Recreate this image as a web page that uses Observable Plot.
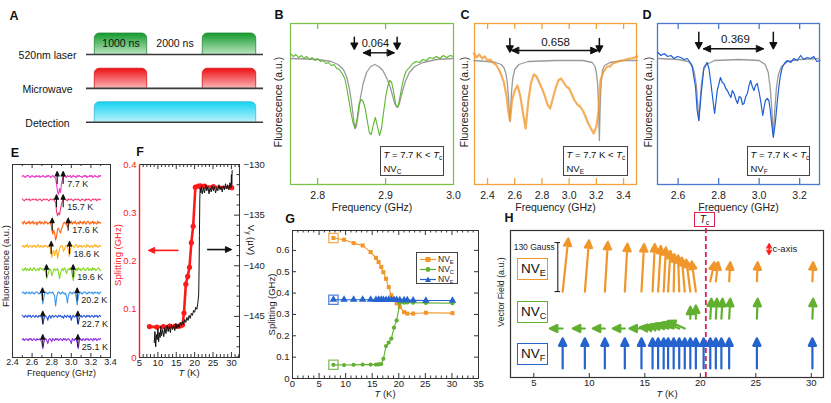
<!DOCTYPE html>
<html><head><meta charset="utf-8">
<script src="https://cdn.jsdelivr.net/npm/d3@7"></script>
<script src="https://cdn.jsdelivr.net/npm/@observablehq/plot@0.6"></script>
<style>
body{margin:0;background:#fff;}
#fig{position:relative;width:831px;height:403px;overflow:hidden;font-family:"Liberation Sans",Arial,Helvetica,sans-serif;color:#222;background:#fff;}
#fig svg{position:absolute;}
sub{font-size:0.68em;vertical-align:-0.3em;line-height:0;}
.box{position:absolute;background:#fff;box-sizing:border-box;white-space:nowrap;}
</style></head>
<body><div id="fig"></div>
<script>
// ---------------- DATA ----------------
// Panel A (pulse sequence, ns)
const aRows = ["520nm laser", "Microwave", "Detection"];
const aLevel = [2, 1, 0];
const laserPulses = [{start: 0, end: 1000}, {start: 2060, end: 3080}];
const microwavePulses = [{start: 0, end: 1000}, {start: 2060, end: 3080}];
const detectionPulses = [{start: 0, end: 3080}];
const pulseHeight = [0.62, 0.58, 0.59];
const timeLabels = [{t: 500, text: "1000 ns"}, {t: 1530, text: "2000 ns"}];

// Panel B (NV_C)
const bFreq = [2.760,2.764,2.768,2.772,2.776,2.780,2.784,2.788,2.792,2.796,2.800,2.804,2.808,2.812,2.816,2.820,2.824,2.828,2.832,2.836,2.840,2.843,2.846,2.849,2.852,2.855,2.858,2.861,2.864,2.867,2.870,2.873,2.876,2.879,2.882,2.885,2.888,2.891,2.894,2.897,2.900,2.903,2.906,2.909,2.912,2.915,2.918,2.921,2.924,2.927,2.930,2.935,2.940,2.945,2.950,2.955,2.960,2.965,2.970,2.975,2.980,2.985,2.990,2.995,3.000];
const bSignal = [1.02,1.005,1.015,1.0,1.01,0.995,1.005,0.99,1.0,0.985,0.995,0.98,0.985,0.97,0.975,0.96,0.965,0.945,0.94,0.92,0.895,0.845,0.785,0.725,0.675,0.645,0.695,0.77,0.79,0.78,0.745,0.685,0.625,0.615,0.665,0.70,0.655,0.61,0.645,0.725,0.80,0.855,0.885,0.875,0.825,0.765,0.75,0.80,0.855,0.90,0.93,0.95,0.97,0.98,0.975,0.99,0.985,1.0,0.995,1.005,0.995,1.01,1.0,1.01,1.005];
const bFitFreq = [2.760,2.800,2.820,2.830,2.838,2.843,2.847,2.850,2.853,2.855,2.857,2.860,2.863,2.867,2.872,2.878,2.884,2.890,2.896,2.902,2.907,2.911,2.914,2.917,2.920,2.924,2.929,2.935,2.943,2.955,2.975,3.000];
const bFit = [0.995,0.99,0.98,0.965,0.94,0.90,0.84,0.77,0.69,0.645,0.655,0.72,0.80,0.87,0.925,0.955,0.965,0.955,0.935,0.895,0.85,0.80,0.765,0.75,0.765,0.82,0.88,0.925,0.955,0.975,0.99,0.995];
const bMarks = [2.854, 2.917];
const bSplit = "0.064";

// Panel C (NV_E)
const cFreq = [2.30,2.32,2.34,2.36,2.38,2.40,2.42,2.44,2.46,2.48,2.50,2.52,2.54,2.55,2.565,2.58,2.60,2.62,2.64,2.66,2.68,2.70,2.72,2.74,2.76,2.78,2.80,2.82,2.84,2.86,2.88,2.90,2.92,2.94,2.96,2.98,3.00,3.02,3.04,3.06,3.08,3.10,3.12,3.14,3.16,3.18,3.20,3.215,3.23,3.25,3.28,3.30,3.32,3.34,3.36,3.38,3.40,3.42,3.44,3.46,3.48,3.50];
const cSignal = [1.02,1.0,1.015,0.995,1.005,0.985,0.99,0.975,0.965,0.945,0.915,0.875,0.805,0.745,0.685,0.785,0.835,0.86,0.81,0.725,0.645,0.785,0.875,0.915,0.905,0.875,0.845,0.81,0.765,0.745,0.795,0.845,0.885,0.895,0.875,0.855,0.845,0.815,0.785,0.765,0.755,0.735,0.705,0.67,0.645,0.62,0.655,0.725,0.885,0.925,0.955,0.955,0.97,0.975,0.98,0.985,0.985,0.99,0.995,0.995,1.0,1.005];
const cFitFreq = [2.30,2.40,2.46,2.50,2.52,2.535,2.545,2.553,2.559,2.564,2.569,2.576,2.585,2.60,2.63,2.70,2.90,3.10,3.17,3.19,3.20,3.21,3.216,3.222,3.228,3.235,3.245,3.26,3.30,3.40,3.50];
const cFit = [0.985,0.98,0.975,0.965,0.95,0.92,0.875,0.81,0.735,0.68,0.735,0.825,0.895,0.94,0.965,0.98,0.985,0.985,0.975,0.955,0.925,0.86,0.76,0.585,0.76,0.875,0.935,0.96,0.975,0.985,0.985];
const cMarks = [2.564, 3.222];
const cSplit = "0.658";

// Panel D (NV_F)
const dFreq = [2.500,2.515,2.531,2.548,2.564,2.580,2.597,2.613,2.630,2.645,2.660,2.670,2.686,2.694,2.702,2.714,2.727,2.743,2.752,2.760,2.772,2.780,2.793,2.809,2.818,2.826,2.835,2.843,2.852,2.860,2.868,2.876,2.885,2.893,2.902,2.910,2.918,2.925,2.934,2.942,2.950,2.958,2.966,2.974,2.982,2.991,3.000,3.007,3.018,3.025,3.031,3.040,3.048,3.055,3.060,3.070,3.081,3.090,3.097,3.105,3.114,3.125,3.139,3.155,3.172,3.188,3.205,3.220,3.237,3.254,3.270,3.285,3.300];
const dSignal = [1.025,1.01,1.02,1.005,1.01,0.995,1.005,1.0,0.99,0.995,0.975,0.95,0.85,0.735,0.685,0.82,0.95,0.975,0.945,0.885,0.785,0.72,0.835,0.90,0.875,0.87,0.845,0.835,0.815,0.80,0.835,0.82,0.79,0.77,0.805,0.80,0.765,0.77,0.805,0.82,0.86,0.885,0.855,0.835,0.86,0.87,0.825,0.785,0.71,0.755,0.785,0.795,0.785,0.735,0.685,0.60,0.685,0.785,0.85,0.91,0.95,0.97,0.985,0.975,0.995,0.985,1.01,0.99,1.0,0.995,1.005,0.98,0.985];
const dFitFreq = [2.50,2.60,2.65,2.67,2.68,2.69,2.697,2.702,2.707,2.714,2.725,2.74,2.78,2.90,3.00,3.03,3.045,3.055,3.063,3.07,3.077,3.085,3.095,3.11,3.14,3.20,3.30];
const dFit = [0.995,0.99,0.98,0.96,0.925,0.86,0.76,0.685,0.76,0.86,0.935,0.965,0.985,0.99,0.985,0.965,0.925,0.845,0.735,0.61,0.735,0.845,0.915,0.955,0.98,0.99,0.995];
const dMarks = [2.702, 3.070];
const dSplit = "0.369";

// Panel E (spectra vs temperature, sweep 2.50–3.30 GHz, 0.01 GHz steps; values = change, px-like a.u.)
const eLabels = ["7.7 K","15.7 K","17.6 K","18.6 K","19.6 K","20.2 K","22.7 K","25.1 K"];
const eColors = ["#f03cc8","#f43c70","#ff6414","#ffb21e","#80d820","#3c98ea","#2a55e0","#8c2ee0"];
const eTraces = [
 [0,1,0,-1,0,1,1,0,-1,0, 1,0,0,-1,1,0,0,1,-1,0, 0,1,0,0,-1,1,0,1,0,-1, 0,1,0,-1,-2,-8,-15,-18,-12,-16, -7,-3,0,1,0,-1,1,0,0,1, -1,0,1,0,0,-1,1,0,1,0, 0,-1,0,1,0,1,-1,0,0,1, 0,1,-1,0,1,0,0,-1,1,0,1],
 [1,0,-1,0,1,0,0,1,-1,0, 0,1,0,0,1,-1,0,0,1,0, -1,0,1,0,0,1,0,-1,0,1, 0,0,1,-1,-3,-12,-16,-13,-15,-9, -4,-1,0,1,0,0,-1,1,0,0, 1,0,-1,0,1,0,0,1,0,-1, 0,1,0,0,-1,1,0,0,1,0, -1,0,1,0,0,1,-1,0,1,0,0],
 [1,-1,2,0,-1,1,0,2,-1,1, 0,2,-1,0,1,-2,1,0,2,-1, 1,0,-1,2,0,1,-1,0,1,-1, -4,-11,-7,-10,-17,-13,-6,-5,-8,-10, -6,-3,0,1,-1,0,-4,-3,1,0, 2,-1,1,0,2,-1,0,1,-1,2, 0,1,-1,2,0,-1,1,2,0,-1, 1,0,2,-1,1,0,-1,2,0,1,0],
 [0,1,-1,1,0,2,-1,0,1,0, -1,1,0,1,-1,0,2,0,-1,1, 0,-1,1,0,1,0,-1,1,0,-4, -11,-6,-4,-9,-5,-3,-12,-7,-2,0, 1,0,-5,-3,0,1,-1,-4,-10,-4, 0,1,0,-1,1,2,0,-1,1,0, 1,-1,0,1,0,-1,2,0,1,-1, 0,1,-1,0,2,0,1,-1,0,1,0],
 [1,-1,0,2,-1,1,0,-1,2,0, -1,1,2,0,-1,0,1,-1,2,1, 0,1,-1,0,-3,-9,-5,-2,1,0, -6,-4,0,1,-1,0,1,-3,-9,-4, 0,1,-1,2,0,-4,-1,1,0,2, -1,-5,-11,-5,0,1,-1,2,0,1, -1,0,2,1,-1,0,1,2,-1,0, 1,-1,2,0,1,-1,0,1,2,0,-1],
 [0,1,0,-1,1,0,0,1,-1,0, 1,0,-1,0,1,1,0,-1,0,1, -3,-11,-4,0,1,0,-1,0,1,0, 0,1,-1,-3,-13,-5,0,1,0,-1, 0,1,0,-1,0,-3,-10,-3,0,1, 0,-1,1,0,0,-4,-12,-4,0,1, 0,-1,0,1,1,0,-1,0,1,0, 0,1,-1,0,1,0,0,1,-1,0,1],
 [1,0,-1,1,0,-1,1,0,1,-1, 0,1,0,-1,1,0,-1,1,0,0, -2,-8,-3,1,0,-1,-4,0,1,-2, 0,1,-1,0,1,0,-1,1,0,1, -1,0,-2,1,0,-1,1,0,-1,1, -4,0,1,-1,0,1,-3,-8,-3,0, 1,-1,0,1,0,-1,1,0,1,-1, 0,1,0,-1,1,0,1,-1,0,1,0],
 [0,1,-1,0,1,0,-1,1,0,1, -1,0,1,0,-1,1,0,0,1,-1, -3,-9,-3,0,1,-1,-4,0,1,0, -2,1,0,-1,1,0,1,-1,0,1, 0,-1,1,0,1,-1,0,1,0,-1, -4,1,0,-1,1,0,-3,-9,-3,1, 0,-1,1,0,-1,1,0,1,-1,0, 1,0,-1,1,0,1,-1,0,1,0,1]
];
const eArrowFreqs = [[2.856,2.917],[2.849,2.917],[2.805,2.968],[2.795,2.982],[2.747,3.019],[2.706,3.060],[2.709,3.067],[2.709,3.067]];

// Panel G / F (splitting vs T)
const tG  = [7.7,9.7,11.5,13.2,14.7,15.7,16.2,16.7,17.1,17.6,18.1,18.6,19.1,19.6,20.2,21.0,21.6,22.7,25.1,30.1];
const nvE = [0.658,0.650,0.634,0.623,0.592,0.565,0.545,0.522,0.498,0.467,0.428,0.389,0.370,0.352,0.335,0.311,0.304,0.304,0.308,0.306];
const nvC = [0.064,0.063,0.064,0.065,0.065,0.065,0.066,0.068,0.092,0.152,0.168,0.187,0.238,0.272,0.353,0.355,0.356,0.355,0.354,0.352];
const nvF = [0.369,0.369,0.369,0.369,0.369,0.368,0.369,0.369,0.368,0.368,0.368,0.368,0.368,0.368,0.367,0.367,0.367,0.366,0.365,0.365];

// Panel F transport (µV)
const fT = [9.0,9.2,9.4,9.6,9.8,10.0,10.2,10.4,10.6,10.8,11.0,11.3,11.6,11.9,12.2,12.5,12.8,13.1,13.4,13.7,14.0,14.3,14.6,14.9,15.2,15.5,15.8,16.1,16.4,16.7,17.0,17.3,17.6,17.9,18.2,18.5,18.8,19.1,19.4,19.7,20.0,20.3,20.6,20.9,21.1,21.2,21.3,21.4,21.5,21.7,21.9,22.1,22.4,22.7,23.0,23.3,23.6,23.9,24.2,24.5,24.8,25.1,25.4,25.7,26.0,26.3,26.6,26.9,27.2,27.5,27.8,28.1,28.4,28.7,29.0,29.3,29.6,29.9,30.0,30.1,30.2];
const fV = [-147.6,-146.5,-148.0,-146.8,-147.3,-146.2,-147.5,-146.6,-147.1,-146.0,-146.9,-146.3,-147.0,-146.1,-146.7,-145.9,-146.5,-146.0,-146.6,-145.8,-146.3,-145.9,-146.4,-145.7,-146.2,-145.8,-146.1,-145.6,-145.9,-145.5,-145.8,-145.3,-145.6,-145.1,-145.4,-144.9,-145.2,-144.7,-144.9,-144.4,-144.6,-144.1,-144.3,-143.6,-142.8,-140.5,-137.0,-133.5,-132.3,-132.8,-132.1,-132.9,-132.3,-132.8,-132.0,-132.6,-132.2,-132.9,-132.3,-132.7,-132.1,-132.6,-132.2,-132.8,-132.3,-132.6,-132.0,-132.5,-132.2,-132.7,-132.1,-132.5,-131.9,-132.4,-132.0,-132.5,-131.8,-132.3,-131.0,-132.0,-130.6];

// Panel H (vector field, Gauss: [B_perp, B_c])
const Tc = 20.5;
const hT = [7.6,9.6,11.4,13.2,14.7,15.7,16.2,16.7,17.1,17.6,18.1,18.6,19.1,19.6,20.3,20.9,21.4,21.9,22.6,25.1,30.1];
const hE = [[15,141],[11,136],[8,132],[7,127],[7,126],[6,126],[7,121],[6,117],[6,108],[2,99],[-3,96],[-8,90],[-11,85],[-11,80],null,[11,51],[6,51],null,[3,51],[2,51],[2,51]];
const hC = [[-34,0],[-32,0],[-32,0],[-32,0],[-32,0],[-34,3],[-37,5],[-40,8],[-40,11],[-42,13],[-44,16],[-45,20],[0,32],[0,35],null,[3,53],[3,53],[3,53],[3,53],[2,53],[2,53]];
const hF = [[0,80],[0,80],[0,80],[0,80],[0,80],[0,80],[0,80],[0,80],[0,80],[0,80],[0,80],[0,80],[0,80],[0,80],[0,80],[0,80],[0,80],[0,80],[0,80],[0,80],[0,80]];
const scaleBarGauss = 130;

// ---------------- STYLE / HELPERS ----------------
const FONT = '"Liberation Sans", Arial, Helvetica, sans-serif';
const cOr = "#f0962a", cGr = "#62b030", cBl = "#2563cf", cRed = "#ff1a1a", cTc = "#dc2050";
const fig = document.getElementById("fig");
const st = (fs) => ({fontFamily: FONT, fontSize: fs + "px", background: "transparent", overflow: "visible", color: "#222"});
function put(svg, left, top) { svg.style.left = left + "px"; svg.style.top = top + "px"; fig.appendChild(svg); }
function label(h, cx, cy, css = "", rot = 0) {
  const d = document.createElement("div");
  d.innerHTML = h;
  d.style.cssText = `position:absolute;left:${cx}px;top:${cy}px;transform:translate(-50%,-50%) rotate(${rot}deg);white-space:nowrap;line-height:1;${css}`;
  fig.appendChild(d);
}
function box(h, x, y, w, hgt, css) {
  const d = document.createElement("div");
  d.className = "box";
  d.innerHTML = h;
  d.style.cssText += `left:${x}px;top:${y}px;width:${w}px;height:${hgt}px;${css}`;
  fig.appendChild(d);
}
const mkArrow = (head = 6, wing = 3) => ({
  draw(ctx, l) {
    const h = Math.min(head, l);
    ctx.moveTo(0, 0); ctx.lineTo(0, -l + h * 0.7);
    ctx.moveTo(-wing, -l + h); ctx.lineTo(0, -l); ctx.lineTo(wing, -l + h); ctx.closePath();
  }
});
const xTicks = (vals, len, fh, stroke = "#333", sw = 1) => [
  Plot.tickX(vals, {x: d => d, insetTop: fh - len, stroke, strokeWidth: sw}),
  Plot.tickX(vals, {x: d => d, insetBottom: fh - len, stroke, strokeWidth: sw})
];
const yTicks = (vals, len, fw, stroke = "#333", sides = "both") => [
  ...(sides !== "right" ? [Plot.tickY(vals, {y: d => d, insetRight: fw - len, stroke})] : []),
  ...(sides !== "left" ? [Plot.tickY(vals, {y: d => d, insetLeft: fw - len, stroke})] : [])
];
const yLabel = (text, dx, dy, fs, fill = "#222") => Plot.text([text], {frameAnchor: "left", textAnchor: "middle", lineAnchor: "middle", rotate: -90, dx, dy, fontSize: fs, fill});
const xLabel = (text, dy, fs) => Plot.text([text], {frameAnchor: "bottom", textAnchor: "middle", lineAnchor: "middle", dy, fontSize: fs, fill: "#222"});
const f1 = d3.format(".1f");

// ---------------- PANEL A ----------------
const defsA = () => {
  const d = document.createElementNS("http://www.w3.org/2000/svg", "defs");
  d.innerHTML = `
  <linearGradient id="gLaser" x1="0" y1="0" x2="0" y2="1"><stop offset="0" stop-color="#139a2c"/><stop offset="1" stop-color="#e4f6e4"/></linearGradient>
  <linearGradient id="gMw" x1="0" y1="0" x2="0" y2="1"><stop offset="0" stop-color="#ee0f14"/><stop offset="1" stop-color="#ffe0e0"/></linearGradient>
  <linearGradient id="gDet" x1="0" y1="0" x2="0" y2="1"><stop offset="0" stop-color="#14d2f0"/><stop offset="1" stop-color="#e4fbff"/></linearGradient>`;
  return d;
};
const pulseRows = [
  {pulses: laserPulses, level: aLevel[0], h: pulseHeight[0], fill: "url(#gLaser)", stroke: "#2a8a3a"},
  {pulses: microwavePulses, level: aLevel[1], h: pulseHeight[1], fill: "url(#gMw)", stroke: "#d01818"},
  {pulses: detectionPulses, level: aLevel[2], h: pulseHeight[2], fill: "url(#gDet)", stroke: "#38b8dc"}
];
put(Plot.plot({
  width: 280, height: 140, marginLeft: 86, marginRight: 17, marginTop: 54, marginBottom: 18.3,
  x: {domain: [-158, 3219], axis: null}, y: {domain: [0, 2], axis: null},
  style: st(10.5),
  marks: [
    defsA,
    ...pulseRows.flatMap(r => [
      Plot.rect(r.pulses, {x1: "start", x2: "end", y1: r.level - 0.16, y2: r.level + r.h, fill: r.fill, stroke: r.stroke, strokeWidth: 0.8, rx: 5}),
      Plot.rect(r.pulses, {x1: d => d.start - 40, x2: d => d.end + 40, y1: r.level - 0.2, y2: r.level, fill: "white"})
    ]),
    Plot.ruleY(aLevel, {stroke: "#3a3a3a", strokeWidth: 1.6}),
    Plot.text(aRows, {y: (d, i) => aLevel[i], text: d => d, frameAnchor: "left", textAnchor: "middle", dx: -39, dy: 1, fontSize: 10.5, fill: "#111"}),
    Plot.text(timeLabels, {x: "t", y: 2, dy: -11, text: "text", fontSize: 10.5, fill: "#111"})
  ]
}), 0, 0);

// ---------------- PANELS B, C, D ----------------
function spectrumPanel(o) {
  const fh = 161;
  return Plot.plot({
    width: o.w, height: 215, marginLeft: o.ml, marginRight: o.mr, marginTop: 23, marginBottom: 31,
    x: {domain: o.xd}, y: {domain: [0.365, 1.17], axis: null},
    style: st(10.5),
    marks: [
      Plot.frame({stroke: o.frame, strokeWidth: 1.3}),
      ...xTicks(o.ticks.filter(t => t > o.xd[0] + 0.01 && t < o.xd[1] - 0.01), 6, fh, o.frame, 1.3),
      Plot.axisX(o.ticks, {tickSize: 0, tickPadding: 7, tickFormat: f1, fontSize: 10.5, label: null}),
      Plot.line(o.fitFreq, {x: d => d, y: (d, i) => o.fit[i], stroke: "#9a9a9a", strokeWidth: 1.3}),
      Plot.line(o.freq, {x: d => d, y: (d, i) => o.sig[i], stroke: o.color, strokeWidth: o.sw, strokeOpacity: o.op}),
      Plot.vector(o.marks, {x: d => d, y: o.arrowTop, rotate: 180, length: o.arrowLen, anchor: "start", shape: mkArrow(6, 3.2), stroke: "#111", fill: "#111", strokeWidth: 1.5}),
      Plot.link([0], {x1: o.hArrow[0], x2: o.hArrow[1], y1: o.hY, y2: o.hY, stroke: "#111", strokeWidth: 1.4}),
      Plot.vector([o.hArrow[0]], {x: d => d, y: o.hY, rotate: 270, length: 7, anchor: "end", shape: mkArrow(7, 3.2), stroke: "#111", fill: "#111", strokeWidth: 1}),
      Plot.vector([o.hArrow[1]], {x: d => d, y: o.hY, rotate: 90, length: 7, anchor: "end", shape: mkArrow(7, 3.2), stroke: "#111", fill: "#111", strokeWidth: 1}),
      Plot.text([o.split], {x: o.labelX, y: o.labelY, text: d => d, fontSize: o.labelFs, fill: "#111"}),
      yLabel("Fluorescence (a.u.)", o.ylabDx, -2, 10.5),
      xLabel("Frequency (GHz)", 23, 10.5)
    ]
  });
}
put(spectrumPanel({w: 190, ml: 20, mr: 7, xd: [2.76, 3.0], ticks: [2.8, 2.9, 3.0], frame: "#7cc24a", color: "#5cb42c", sw: 1.1, op: 1,
  freq: bFreq, sig: bSignal, fitFreq: bFitFreq, fit: bFit, marks: bMarks, arrowTop: 1.1015, arrowLen: 12,
  hArrow: [2.867, 2.913], hY: 1.0235, split: bSplit, labelX: 2.885, labelY: 1.0715, labelFs: 11, ylabDx: -12}), 270, 0);
put(spectrumPanel({w: 190, ml: 19, mr: 9, xd: [2.304, 3.495], ticks: [2.4, 2.6, 2.8, 3.0, 3.2, 3.4], frame: "#f2a13c", color: "#f29a30", sw: 2.2, op: 0.8,
  freq: cFreq, sig: cSignal, fitFreq: cFitFreq, fit: cFit, marks: cMarks, arrowTop: 1.095, arrowLen: 13.5,
  hArrow: [2.576, 3.212], hY: 1.035, split: cSplit, labelX: 2.90, labelY: 1.0765, labelFs: 11.5, ylabDx: -10}), 455, 0);
put(spectrumPanel({w: 193, ml: 19, mr: 12, xd: [2.498, 3.298], ticks: [2.6, 2.8, 3.0, 3.2], frame: "#4a78cc", color: "#1f5fd6", sw: 1.2, op: 1,
  freq: dFreq, sig: dSignal, fitFreq: dFitFreq, fit: dFit, marks: dMarks, arrowTop: 1.1265, arrowLen: 16.5,
  hArrow: [2.724, 3.022], hY: 1.0435, split: dSplit, labelX: 2.883, labelY: 1.0885, labelFs: 11.5, ylabDx: -9}), 638, 0);

// ---------------- PANEL E ----------------
const eFreq = d3.range(81).map(i => +(2.5 + i * 0.01).toFixed(2));
const eStep = 0.233;
const eArrows = eArrowFreqs.flatMap((p, i) => p.map(f => ({f, y: 1 - i * eStep - 0.07})));
put(Plot.plot({
  width: 118, height: 230, marginLeft: 12, marginRight: 8, marginTop: 14, marginBottom: 23,
  x: {domain: [2.4, 3.4]}, y: {domain: [-0.81, 1.12], axis: null},
  style: st(9),
  marks: [
    Plot.frame({stroke: "#333"}),
    ...xTicks([2.6, 2.8, 3.0, 3.2], 4, 193),
    ...xTicks([2.5, 2.7, 2.9, 3.1, 3.3], 2, 193),
    Plot.axisX([2.4, 2.6, 2.8, 3.0, 3.2, 3.4], {tickSize: 0, tickPadding: 1.5, tickFormat: f1, fontSize: 9, label: null}),
    ...eTraces.map((tr, i) => Plot.line(tr, {x: (d, j) => eFreq[j], y: d => 1 - i * eStep + d * 0.01, stroke: eColors[i], strokeWidth: 1.1})),
    Plot.vector(eArrows, {x: "f", y: "y", length: 12, rotate: 0, anchor: "start", shape: mkArrow(4.5, 2), stroke: "#111", fill: "#111", strokeWidth: 1.1}),
    Plot.text(eLabels, {x: (d, i) => eArrowFreqs[i][1], y: (d, i) => 1 - i * eStep - 0.075, text: d => d, textAnchor: "start", dx: 4, fontSize: 9, fill: "#222"}),
    yLabel("Fluorescence (a.u.)", -7, 5, 9.5),
    xLabel("Frequency (GHz)", 15.5, 9)
  ]
}), 0, 150);

// ---------------- PANEL F ----------------
const fTicksMinor = d3.range(6, 33).filter(t => t % 5 !== 0);
put(Plot.plot({
  width: 160, height: 235, marginLeft: 34, marginRight: 26, marginTop: 14, marginBottom: 28,
  x: {domain: [5, 32.2]}, y: {domain: [0, 0.4]},
  style: st(9.5),
  marks: [
    Plot.frame({stroke: "#333"}),
    Plot.ruleX([5], {stroke: cRed, strokeWidth: 1.4}),
    ...xTicks(fTicksMinor, 3, 193),
    ...xTicks([10, 15, 20, 25, 30], 5, 193),
    Plot.axisX([5, 10, 15, 20, 25, 30], {tickSize: 0, tickPadding: 2, fontSize: 9.5, label: null}),
    Plot.axisY([0, 0.1, 0.2, 0.3, 0.4], {tickSize: 0, tickPadding: 3, fill: cRed, fontSize: 9.5, tickFormat: d => d === 0 ? "0" : f1(d), label: null}),
    Plot.line(tG, {x: d => d, y: (d, i) => nvC[i], stroke: cRed, strokeWidth: 2.6}),
    Plot.dot(tG, {x: d => d, y: (d, i) => nvC[i], fill: cRed, r: 2.6}),
    Plot.link([0], {x1: 15.6, x2: 8.2, y1: 0.222, y2: 0.222, stroke: cRed, strokeWidth: 1.6}),
    Plot.vector([7.4], {x: d => d, y: 0.222, rotate: 270, length: 6, anchor: "end", shape: mkArrow(6, 2.8), stroke: cRed, fill: cRed, strokeWidth: 1}),
    yLabel("Splitting (GHz)", -22, -6, 9.5, cRed)
  ]
}), 105, 150);
put(Plot.plot({
  width: 160, height: 235, marginLeft: 34, marginRight: 26, marginTop: 14, marginBottom: 28,
  x: {domain: [5, 32.2], axis: null}, y: {domain: [-149.06, -130]},
  style: st(9.5),
  marks: [
    ...yTicks(d3.range(-149, -129).filter(v => v % 5 !== 0), 2.5, 100, "#333", "right"),
    ...yTicks([-130, -135, -140, -145], 5, 100, "#333", "right"),
    Plot.axisY([-130, -135, -140, -145], {anchor: "right", tickSize: 0, tickPadding: 4, fontSize: 9.5, label: null}),
    Plot.line(fT, {x: d => d, y: (d, i) => fV[i], stroke: "#111", strokeWidth: 1}),
    Plot.link([0], {x1: 23.4, x2: 29.4, y1: -138.4, y2: -138.4, stroke: "#111", strokeWidth: 1.6}),
    Plot.vector([30.1], {x: d => d, y: -138.4, rotate: 90, length: 6, anchor: "end", shape: mkArrow(6, 2.8), stroke: "#111", fill: "#111", strokeWidth: 1})
  ]
}), 105, 150);

// ---------------- PANEL G ----------------
const series = [
  {v: nvE, color: cOr, symbol: "square", r: 2.3},
  {v: nvC, color: cGr, symbol: "circle", r: 2.1},
  {v: nvF, color: cBl, symbol: "triangle", r: 2.8}
];
put(Plot.plot({
  width: 215, height: 188, marginLeft: 24, marginRight: 5, marginTop: 15, marginBottom: 25,
  x: {domain: [0, 35]}, y: {domain: [0, 0.693]},
  style: st(9.5),
  marks: [
    Plot.frame({stroke: "#333"}),
    ...xTicks(d3.range(1, 35).filter(t => t % 5 !== 0), 2.5, 148),
    ...xTicks([5, 10, 15, 20, 25, 30], 5, 148),
    ...yTicks([0.1, 0.2, 0.3, 0.4, 0.5, 0.6], 4, 186),
    Plot.axisX([0, 5, 10, 15, 20, 25, 30, 35], {tickSize: 0, tickPadding: 2, fontSize: 9.5, label: null}),
    Plot.axisY([0, 0.1, 0.2, 0.3, 0.4, 0.5, 0.6], {tickSize: 0, tickPadding: 3, fontSize: 9.5, tickFormat: d => d === 0 ? "0" : f1(d), label: null}),
    ...series.flatMap(s => [
      Plot.line(tG, {x: d => d, y: (d, i) => s.v[i], stroke: s.color, strokeWidth: 1.1}),
      Plot.dot(tG, {x: d => d, y: (d, i) => s.v[i], fill: s.color, symbol: s.symbol, r: s.r}),
      Plot.dot([tG[0]], {x: d => d, y: s.v[0], stroke: s.color, strokeOpacity: 0.8, strokeWidth: 1.3, symbol: "square", r: 5.2, fill: "none"})
    ]),
    yLabel("Splitting (GHz)", -21, 0, 9.5)
  ]
}), 268, 215);

// ---------------- PANEL H ----------------
const gPerPx = 390 / 147;
function hVec(comps, baseFn) {
  return hT.map((t, i) => comps[i] && {
    t, y: baseFn(t, comps[i]),
    len: Math.hypot(comps[i][0], comps[i][1]) / gPerPx,
    rot: Math.atan2(comps[i][0], comps[i][1]) * 180 / Math.PI
  }).filter(Boolean);
}
const rowE = (t) => t < Tc ? 228 : 255;
const rowC = (t, c) => c[1] > Math.abs(c[0]) ? 156 : 130;
const rowF = () => 24;
const vecMark = (data, color) => Plot.vector(data, {x: "t", y: "y", length: "len", rotate: "rot", anchor: "start", shape: mkArrow(7.5, 3.6), stroke: color, fill: color, strokeWidth: 2.2});
const barT = 7.16, barBase = 228;
put(Plot.plot({
  width: 351, height: 198, marginLeft: 30, marginRight: 8, marginTop: 25, marginBottom: 26,
  x: {domain: [2.9, 31.1]}, y: {domain: [0, 390], axis: null},
  length: {type: "identity"},
  style: st(9.5),
  marks: [
    Plot.frame({stroke: "#333", strokeWidth: 1.2}),
    Plot.tickX([5, 10, 15, 20, 25, 30], {x: d => d, insetTop: 143, stroke: "#333"}),
    Plot.axisX([5, 10, 15, 20, 25, 30], {tickSize: 0, tickPadding: 2, fontSize: 9.5, label: null}),
    Plot.ruleX([Tc], {y1: 0, y2: 398, stroke: cTc, strokeWidth: 1.8, strokeDasharray: "5,3"}),
    vecMark(hVec(hF, rowF), cBl),
    vecMark(hVec(hC, rowC), cGr),
    vecMark(hVec(hE, rowE), cOr),
    Plot.ruleX([barT], {y1: barBase, y2: barBase + scaleBarGauss, stroke: "#222", strokeWidth: 1.1}),
    Plot.ruleY([barBase, barBase + scaleBarGauss], {x1: barT - 0.25, x2: barT + 0.25, stroke: "#222", strokeWidth: 1.1}),
    Plot.text([scaleBarGauss + " Gauss"], {x: barT, y: 345, dx: -3, textAnchor: "end", fontSize: 8.5, fill: "#222"}),
    Plot.link([0], {x1: 26.2, x2: 26.2, y1: 329, y2: 352, stroke: cRed, strokeWidth: 1.3}),
    Plot.vector([26.2], {x: d => d, y: 356, rotate: 0, length: 4.5, anchor: "end", shape: mkArrow(4.5, 2.6), stroke: cRed, fill: cRed, strokeWidth: 0.8}),
    Plot.vector([26.2], {x: d => d, y: 325, rotate: 180, length: 4.5, anchor: "end", shape: mkArrow(4.5, 2.6), stroke: cRed, fill: cRed, strokeWidth: 0.8}),
    Plot.text(["c-axis"], {x: 26.5, y: 341, textAnchor: "start", fontSize: 9.5, fill: "#222"}),
    yLabel("Vector Field (a.u.)", -9, -12, 8.8)
  ]
}), 480, 205);

// ---------------- HTML TEXT (panel letters, mixed-style labels) ----------------
const L = "font-weight:bold;font-size:12.5px;color:#111;";
label("A", 14, 16, L); label("B", 279, 15, L); label("C", 465, 15, L); label("D", 647, 15, L);
label("E", 15, 153, L); label("F", 140, 152, L); label("G", 290, 219, L); label("H", 509, 218, L);
const TK = "<i>T</i> (K)";
label(TK, 189, 373, "font-size:9.5px;");
label(TK, 385, 394, "font-size:9.5px;");
label(TK, 667, 394, "font-size:9.5px;");
label("V<sub>y</sub> (µV)", 251, 240, "font-size:9.5px;", 90);
const tbox = (nv) => `<i>T</i> = 7.7 K &lt; <i>T</i><sub>c</sub><br>NV<sub>${nv}</sub>`;
const boxCss = "border:1.3px solid #444;font-size:9.5px;line-height:13.5px;padding:1px 0 0 2.5px;color:#111;";
box(tbox("C"), 380, 146, 64, 30, boxCss);
box(tbox("E"), 563, 146, 65, 30, boxCss);
box(tbox("F"), 747, 146, 63, 30, boxCss);
// G legend
const legRows = [["E", cOr, '<rect x="5.5" y="2" width="5" height="5"'], ["C", cGr, '<circle cx="8" cy="4.5" r="2.4"'], ["F", cBl, '<path d="M8,1.5L11,7L5,7Z"']];
box(legRows.map(([n, c, m]) => `<div style="height:10px;display:flex;align-items:center;"><svg width="16" height="9" style="position:static"><line x1="0" y1="4.5" x2="16" y2="4.5" stroke="${c}" stroke-width="1.2"/>${m} fill="${c}"/></svg><span style="margin-left:2px">NV<sub>${n}</sub></span></div>`).join(""),
  416, 252, 42, 32, "border:1px solid #444;font-size:8.5px;padding:1px 0 0 3px;");
// H row labels
const nvBox = "font-size:13.5px;line-height:20px;padding-left:3px;color:#111;";
box("NV<sub>E</sub>", 517, 258, 31, 22, nvBox + `border:1.5px solid ${cOr};`);
box("NV<sub>C</sub>", 517, 301, 31, 22, nvBox + `border:1.5px solid ${cGr};`);
box("NV<sub>F</sub>", 517, 343, 31, 22, nvBox + `border:1.5px solid ${cBl};`);
box("<i>T</i><sub>c</sub>", 694, 212, 21, 15, `border:1.5px solid ${cTc};font-size:10px;line-height:13px;text-align:center;color:#111;`);
</script>
</body></html>
